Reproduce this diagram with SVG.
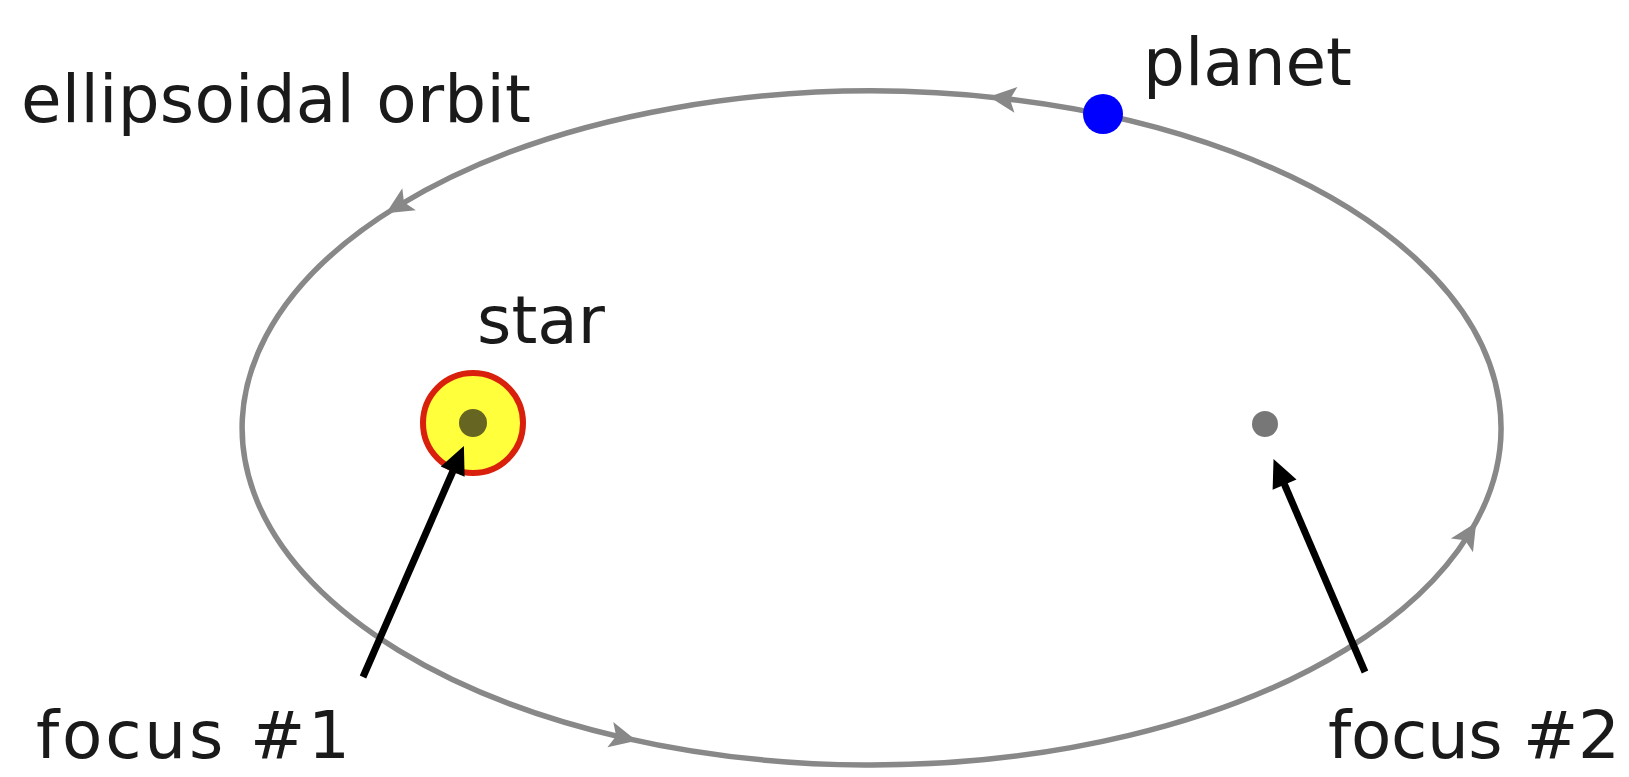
<svg xmlns="http://www.w3.org/2000/svg" width="1629" height="777" viewBox="0 0 1629 777">
  <style>
    .lbl { font-family: "DejaVu Sans", "Liberation Sans", sans-serif; font-size: 66px; fill: #1a1a1a; }
    .orbit { fill: none; stroke: #888888; stroke-width: 5.5; }
    .pointer { fill: none; stroke: #000; stroke-width: 7; }
  </style>
  <defs>
    <marker id="orbitHead" markerUnits="userSpaceOnUse" markerWidth="40" markerHeight="40" refX="0" refY="0" orient="auto" overflow="visible">
      <path d="M14,0 L-13,-13 L-7,0 L-13,13 z" fill="#888888"/>
    </marker>
    <marker id="blackHead" markerUnits="userSpaceOnUse" markerWidth="40" markerHeight="40" refX="4" refY="0" orient="auto" overflow="visible">
      <path d="M0,-13 L28,0 L0,13 z" fill="#000"/>
    </marker>
  </defs>
  <rect width="1629" height="777" fill="#ffffff"/>

  <g id="connectors">
    <path id="orbit" class="orbit" marker-mid="url(#orbitHead)" marker-end="url(#orbitHead)"
      d="M1468.8,534.4 A629.5,337 0 0 0 1003,98.4 A629.5,337 0 0 0 398,206 A629.5,337 0 0 0 623,737.6 A629.5,337 0 0 0 1468.8,534.4"/>
  </g>

  <g id="star">
    <circle cx="473" cy="423" r="50" fill="#ffff3c" stroke="#d8200c" stroke-width="6"/>
    <circle cx="473" cy="423" r="14" fill="#666622"/>
    <text class="lbl" x="477" y="343">star</text>
  </g>

  <g id="focus2">
    <circle cx="1265" cy="424" r="13" fill="#777777"/>
  </g>

  <g id="planet">
    <circle cx="1103" cy="114" r="20" fill="#0000ff"/>
    <text class="lbl" x="1143" y="85">planet</text>
  </g>

  <g id="orbit-label">
    <text class="lbl" x="21" y="122" textLength="510">ellipsoidal orbit</text>
  </g>

  <g id="pointers">
    <path class="pointer" marker-end="url(#blackHead)" d="M363,677 L454.3,468"/>
    <path class="pointer" marker-end="url(#blackHead)" d="M1365,672 L1283,481"/>
  </g>

  <g id="focus1-label">
    <text class="lbl" x="36" y="758" textLength="314">focus #1</text>
  </g>
  <g id="focus2-label">
    <text class="lbl" x="1328" y="758" textLength="292">focus #2</text>
  </g>
</svg>
